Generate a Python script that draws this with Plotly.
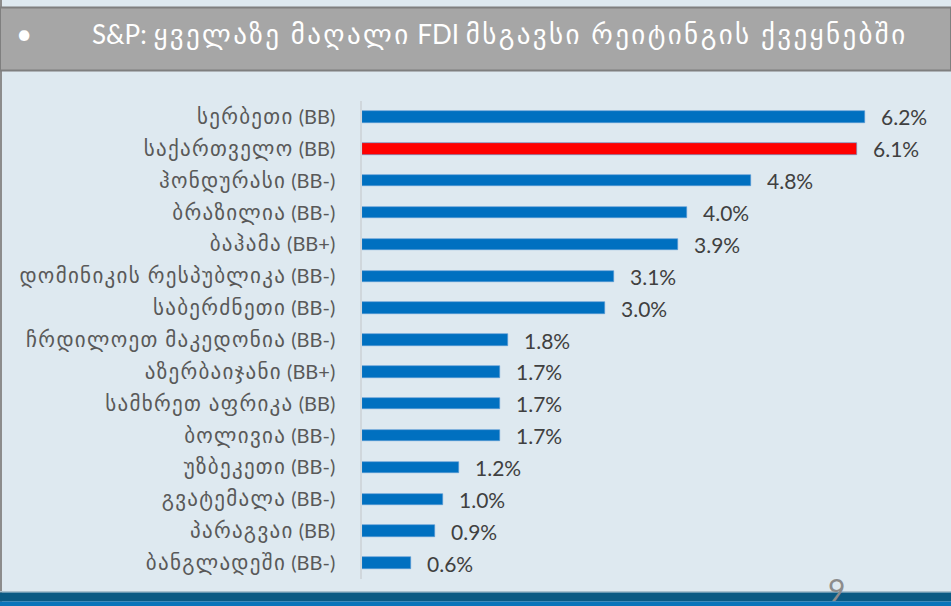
import re
import plotly.graph_objects as go

countries = [
    "სერბეთი (BB)", "საქართველო (BB)", "ჰონდურასი (BB-)", "ბრაზილია (BB-)",
    "ბაჰამა (BB+)", "დომინიკის რესპუბლიკა (BB-)", "საბერძნეთი (BB-)",
    "ჩრდილოეთ მაკედონია (BB-)", "აზერბაიჯანი (BB+)", "სამხრეთ აფრიკა (BB)",
    "ბოლივია (BB-)", "უზბეკეთი (BB-)", "გვატემალა (BB-)", "პარაგვაი (BB)",
    "ბანგლადეში (BB-)",
]
fdi_values = [6.2, 6.1, 4.8, 4.0, 3.9, 3.1, 3.0, 1.8, 1.7, 1.7, 1.7, 1.2, 1.0, 0.9, 0.6]
highlight = "საქართველო (BB)"
title_text = "S&P: ყველაზე მაღალი FDI მსგავსი რეიტინგის ქვეყნებში"
page_number = "9"

W, H = 951, 606
L, R, T, B = 362, 21, 101, 27
pw, ph = W - L - R, H - T - B

def px(x):
    return (x - L) / pw

def py(y):
    return (H - B - y) / ph

FONT = "Lato, 'DejaVu Sans', sans-serif"
GEO = re.compile(r"([\u10A0-\u10FF][\u10A0-\u10FF ]*[\u10A0-\u10FF]|[\u10A0-\u10FF])")

def mixed(s, geo_size, lat_size, spacing):
    # Georgian runs are drawn a little wider (the source font's Georgian glyphs are broad)
    parts = GEO.split(s)
    out = []
    for p in parts:
        if not p:
            continue
        if GEO.fullmatch(p):
            out.append(f"<span style='font-size:{geo_size}px;letter-spacing:{spacing}px'>{p}</span>")
        else:
            out.append(f"<span style='font-size:{lat_size}px'>{p}</span>")
    return "".join(out)

colors = ["#FF0000" if c == highlight else "#0070C0" for c in countries]

fig = go.Figure()
fig.add_trace(go.Bar(
    x=fdi_values, y=countries, orientation="h",
    marker=dict(color=colors, line=dict(color="#5B9BD5", width=0.6)),
    width=0.36, hoverinfo="skip",
))

annotations = []
for c, v in zip(countries, fdi_values):
    annotations.append(dict(
        x=v, y=c, xref="x", yref="y", text=f"{v:.1f}%", showarrow=False,
        xanchor="left", yanchor="middle", xshift=14,
        font=dict(family=FONT, size=21, color="#404040"),
    ))

annotations.append(dict(
    x=px(24), y=py(33), xref="paper", yref="paper", text="•", showarrow=False,
    xanchor="center", yanchor="middle", font=dict(family=FONT, size=28, color="white"),
))
annotations.append(dict(
    x=px(90), y=py(34), xref="paper", yref="paper", text=mixed(title_text, 27, 26, 2.4),
    showarrow=False, xanchor="left", yanchor="middle",
    font=dict(family=FONT, size=26, color="white"),
))
annotations.append(dict(
    x=px(836), y=py(589), xref="paper", yref="paper", text=page_number, showarrow=False,
    xanchor="center", yanchor="middle", font=dict(family=FONT, size=30, color="#8C8C8C"),
))

shapes = [
    dict(type="rect", xref="paper", yref="paper", x0=px(0), x1=px(2), y0=py(0), y1=py(H),
         fillcolor="#8C8C8C", line=dict(width=0), layer="below"),
    dict(type="rect", xref="paper", yref="paper", x0=px(0), x1=px(W), y0=py(7.5), y1=py(70.5),
         fillcolor="#A6A6A6", line=dict(color="#7F7F7F", width=2), layer="below"),
    dict(type="rect", xref="paper", yref="paper", x0=px(0), x1=px(W), y0=py(591), y1=py(592.5),
         fillcolor="#A9BFCC", line=dict(width=0), layer="below"),
    dict(type="rect", xref="paper", yref="paper", x0=px(0), x1=px(W), y0=py(592.5), y1=py(601.5),
         fillcolor="#0B5A83", line=dict(width=0), layer="below"),
    dict(type="rect", xref="paper", yref="paper", x0=px(0), x1=px(W), y0=py(601.5), y1=py(H),
         fillcolor="#0A74BA", line=dict(width=0), layer="below"),
]

fig.update_layout(
    width=W, height=H,
    margin=dict(l=L, r=R, t=T, b=B, pad=0),
    paper_bgcolor="#DEE9F0", plot_bgcolor="#DEE9F0",
    showlegend=False,
    annotations=annotations, shapes=shapes,
    bargap=0,
)
fig.update_xaxes(range=[0, 7], visible=False, fixedrange=True)
fig.update_yaxes(
    autorange="reversed", showline=True, linecolor="#D0D7DC", linewidth=1.5,
    showgrid=False, ticks="", ticklabelstandoff=21,
    tickvals=countries, ticktext=[mixed(c, 21, 20, 1.3) for c in countries],
    tickfont=dict(family=FONT, size=20, color="#595959"), fixedrange=True,
)

fig.write_html(
    "out.html",
    config={"displayModeBar": False},
    post_script="document.body.style.margin='0';document.body.style.overflow='hidden';",
)
